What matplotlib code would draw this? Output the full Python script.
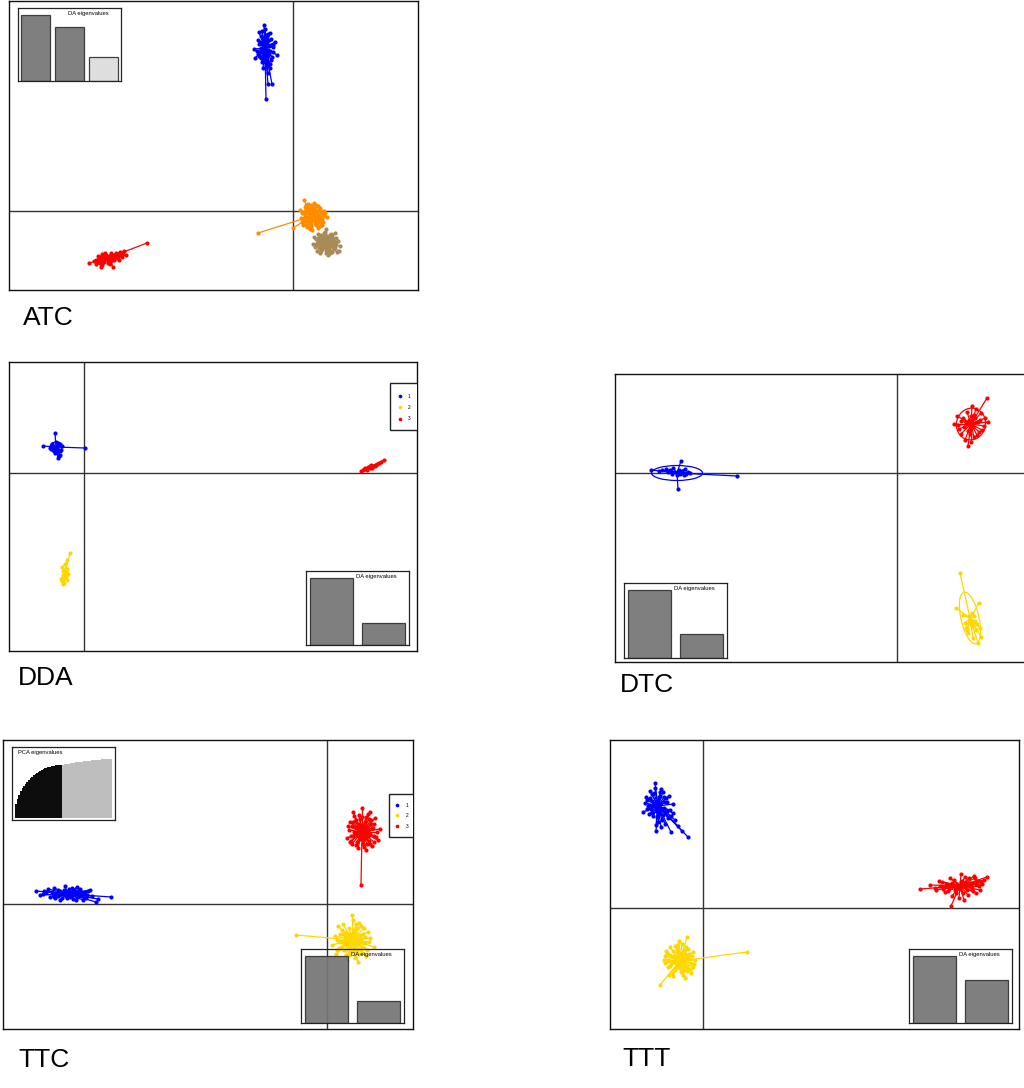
import matplotlib
matplotlib.use("Agg")
import matplotlib.pyplot as plt
from matplotlib.collections import LineCollection
from matplotlib.patches import Ellipse, Rectangle

plt.rcParams['font.family'] = ['Liberation Sans', 'DejaVu Sans']

W, H = 1024, 1088

# ---------------- colours ----------------
BLUE, RED, GOLD, ORANGE, TAN = '#0000FF', '#FF0000', '#FFD700', '#FF8C00', '#A88B57'

# ---------------- ATC (LD scores, arbitrary units; offsets from group centroid) ----------------
ATC_BLUE_C = (-28, 163)
ATC_BLUE = [(-1,23),(-6,16),(-3,17),(5,15),(1,13),(-7,8),(10,6),(8,1),(-10,-10),(12,-7),(-5,-4),(3,-2),
            (6,-12),(-3,-14),(1,-17),(5,-20),(-1,3),(-4,0),(4,8),(8,-4),(3,-36),(7,-36),(1,-51),(-2,-7),
            (2,-9),(-6,4),(0,0),(2,5),(-2,10),(4,-6),(-4,-10),(0,-14),(2,12),(-3,-2),(6,3),(-8,-3),(0,19),
            (3,-25),(-2,-20),(5,-16),(-11,-1),
            (-4,12),(3,14),(6,9),(-5,6),(-7,-6),(7,-9),(2,-14),(-2,-11),(0,8),(4,2),(-3,5),(5,-3),(-1,-3),
            (2,-5),(8,3),(-6,-8)]
ATC_ORANGE_C = (19, -5)
ATC_ORANGE = [(-8,16),(-12,6),(13,3),(10,-9),(-2,-13),(-9,-9),(4,11),(8,8),(-6,11),(-11,-2),(15,-1),(12,5),
              (6,-12),(0,-14),(-5,-6),(3,-7),(-3,4),(5,2),(0,8),(-7,0),(9,-3),(1,-4),(-4,-2),(7,6),(2,13),
              (-10,3),(11,-6),(-1,-9),(4,-1),(-2,1),(6,-5),(-6,6),(3,9),(-9,-5),(12,0),(-1,11),(8,-10),
              (-5,-11),(1,2),(-3,-3),(-54,-17),(-19,-12),
              (-7,9),(-4,12),(2,10),(6,10),(9,5),(10,1),(7,-3),(4,-9),(-1,-11),(-6,-9),(-8,-4),(-9,3),
              (-5,8),(0,5),(4,5),(6,-1),(2,-3),(-2,-6),(-5,3),(-1,0),(3,0),(-3,7),(5,-7),(8,-6),(-10,-6),
              (10,-3),(1,9),(-7,5),(11,3),(-4,-8)]
ATC_TAN_C = (33, -32)
ATC_TAN = [(-13,-1),(14,-3),(0,14),(2,-12),(-8,9),(9,10),(11,-9),(-9,-8),(-4,5),(5,4),(3,-5),(-3,-4),(7,0),
           (-6,1),(1,7),(0,-7),(-10,4),(10,5),(-2,10),(4,-10),(6,7),(-7,-5),(12,2),(-11,-4),(1,1),(-1,-1),
           (3,3),(-4,-1),(8,-6),(-5,8),(2,-3),(5,-8),(-2,4),(9,-2),(-8,2),(0,4),(13,-8),(-12,6),
           (-9,0),(-6,6),(-1,11),(4,8),(8,4),(9,-4),(6,-9),(0,-10),(-5,-8),(-7,-2),(-3,2),(2,2),(4,-3),
           (-1,-4),(1,5),(-4,-6),(6,3),(7,-2),(-8,5),(3,-8),(-2,7),(0,0),(10,0),(-10,-2),(5,9),(-6,-10)]
ATC_RED_C = (-185, -47)
ATC_RED = [(39,15),(-19,-5),(-14,-3),(-10,2),(-6,4),(-2,3),(3,5),(8,5),(12,6),(16,7),(18,3),(14,1),(9,0),
           (5,-1),(0,-2),(-4,-4),(-8,-5),(-12,-6),(-7,-9),(2,-6),(-3,5),(6,1),(11,-2),(-10,-2),(1,0),(-1,2),
           (4,3),(-5,-1),(7,3),(-9,0),(10,4),(0,-5),(15,4),(-6,-7),(5,-9),
           (-12,-2),(-8,1),(-4,0),(0,1),(4,0),(8,2),(12,3),(-6,-3),(-2,-1),(2,2),(6,-2),(10,1),(-10,-4),
           (3,-3),(-5,2),(14,4)]
ATC_DA_EIG = [66, 54, 24]

# ---------------- DDA ----------------
DDA_BLUE_C = (-28, 26)
DDA_BLUE = [(-1,14),(-13,1),(29,-1),(2,-11),(4,-8),(3,-9),(-4,3),(4,3),(-5,-2),(5,-3),(0,5),(-2,-4),(3,2),
            (-3,1),(1,-2),(6,1),(-6,-1),(2,4),(-1,-6),(0,0),(4,-4),(-3,-3)]
DDA_BLUE_ELL = (12, 10, 0)
DDA_GOLD_C = (-19, -100)
DDA_GOLD = [(5,20),(2,13),(-3,6),(-1,3),(1,1),(-2,-2),(0,-5),(-3,-8),(-1,-10),(2,-7),(1,-3),(-2,2),(0,9),
            (-4,-6),(-2,-11),(3,-1),(-1,-4),(2,4)]
DDA_RED_C = (286, 6)
DDA_RED = [(14,7),(-7,-3),(-9,-4),(-4,-2),(0,-1),(3,1),(6,2),(9,4),(11,5),(-2,0),(2,-1),(-5,-1),(5,1),
           (-3,-3),(1,2),(7,3),(-6,-2),(0,1)]
DDA_DA_EIG = [67, 22]

# ---------------- DTC ----------------
DTC_BLUE_C = (-220, 0)
DTC_BLUE = [(-26,3),(4,12),(1,-16),(60,-3),(-11,4),(-7,3),(-4,5),(3,-1),(7,-2),(11,1),(-15,3),(-2,1),(5,2),
            (9,-1),(13,0),(-9,1),(0,-2),(2,3),(-5,-1),(6,0),(8,4),(-18,2)]
DTC_BLUE_ELL = (51, 15, 0)
DTC_RED_C = (74, 49)
DTC_RED = [(16,26),(-17,0),(-14,8),(-12,-5),(-10,-10),(-6,-16),(-3,-22),(0,-18),(3,-13),(8,-8),(13,-2),
           (17,2),(14,6),(10,11),(5,15),(1,18),(-4,12),(-8,6),(-5,2),(-2,4),(2,-3),(4,6),(7,2),(-7,-3),
           (0,8),(-10,3),(11,-6),(3,9),(-3,-7),(6,-11),(-13,-1),(9,4),(-1,-10)]
DTC_RED_ELL = (29, 32, -15)
DTC_GOLD_C = (73, -145)
DTC_GOLD = [(-10,45),(-14,10),(9,15),(-5,-5),(0,-2),(3,-8),(6,-12),(10,-10),(8,-25),(3,-20),(-2,-15),
            (-4,-10),(2,5),(-7,3),(5,-3),(1,-6),(-1,2),(4,2),(11,-19),(-3,-12),(7,-6)]
DTC_GOLD_ELL = (18, 53, 13)
DTC_DA_EIG = [66, 23]

# ---------------- TTC ----------------
TTC_BLUE_C = (-259, 10)
TTC_BLUE = [(43,-3),(-32,3),(-3,8),(28,-8),(20,3),(-25,0),(-20,5),(-15,-2),(-10,4),(-6,-4),(-2,2),(2,-3),
            (6,4),(10,-1),(14,2),(18,-4),(-12,1),(-8,-6),(4,6),(8,-6),(-18,-3),(12,5),(0,-1),(-4,4),(16,0),
            (24,-2),(-28,-1),(22,4),(-22,2),(9,7),(-14,6),(1,5),(5,-5),(-7,0),(11,1),(3,1),(-1,-4),(15,-6),(30,-5),
            (-16,2),(-10,-2),(-4,1),(0,3),(5,1),(9,-3),(13,-1),(-8,3),(-2,-2),(3,-2),(7,2),(11,3),(17,2),
            (-13,-4),(-24,3),(19,-1)]
TTC_RED_C = (35, 72)
TTC_RED = [(-1,-53),(0,24),(-12,10),(12,8),(-15,-6),(18,3),(-10,-12),(10,-14),(4,-18),(-4,-16),(-8,16),
           (6,18),(-13,2),(14,-5),(-6,5),(5,4),(0,0),(2,-7),(-3,-4),(8,-2),(-9,-4),(3,10),(-2,13),(9,12),
           (-11,-9),(12,-10),(7,-9),(-5,-10),(1,-12),(15,0),(-14,6),(4,15),(-7,11),(10,4),(-1,7),(6,-4),
           (-4,1),(2,3),(-6,-1),(16,-8),(8,20),(-9,20),
           (-10,6),(-6,12),(0,15),(7,13),(11,4),(12,-4),(8,-12),(2,-15),(-6,-13),(-11,-4),(-8,0),(-4,8),
           (3,6),(6,1),(4,-6),(-2,-7),(-5,-3),(0,3),(9,8),(-9,10),(5,-12),(-3,17),(13,14),(-12,-10)]
TTC_GOLD_C = (25, -36)
TTC_GOLD = [(-56,5),(0,25),(-14,14),(12,12),(22,-7),(-20,-5),(14,-16),(-16,-14),(6,-22),(-5,-20),(17,-2),
            (-10,-2),(8,5),(-6,8),(4,16),(-2,-8),(3,-4),(-4,3),(10,-8),(-12,6),(7,-14),(-8,-10),(0,0),(2,10),
            (13,3),(-15,0),(5,-10),(-3,-15),(9,14),(-9,16),(16,8),(1,20),(-11,-8),(11,-3),(-1,5),(6,1),
            (-6,-4),(3,-18),(15,-10),(-17,4),
            (-12,-2),(-9,6),(-3,12),(5,12),(11,6),(13,-3),(10,-13),(3,-15),(-6,-15),(-13,-8),(-7,2),(-2,6),
            (4,6),(7,-3),(2,-9),(-4,-6),(0,2),(9,1),(-10,10),(7,17),(-1,-12),(-8,-4),(12,-8),(-15,-10),(18,2)]
TTC_DA_EIG = [66, 22]
TTC_PCA_CUMVAR = [0.23, 0.32, 0.39, 0.45, 0.50, 0.54, 0.58, 0.61, 0.64, 0.67, 0.70, 0.72, 0.74, 0.76, 0.78,
                  0.80, 0.81, 0.83, 0.84, 0.85, 0.86, 0.87, 0.875, 0.88, 0.887, 0.89, 0.895, 0.898, 0.90, 0.90,
                  0.905, 0.91, 0.915, 0.92, 0.925, 0.93, 0.934, 0.938, 0.942, 0.946, 0.95, 0.954, 0.958, 0.961,
                  0.964, 0.967, 0.970, 0.973, 0.976, 0.979, 0.982, 0.985, 0.987, 0.989, 0.991, 0.993, 0.995,
                  0.997, 0.999, 1.0]
TTC_N_PCA = 29

# ---------------- TTT ----------------
TTT_BLUE_C = (-45, 102)
TTT_BLUE = [(-3,23),(-15,-6),(30,-31),(-2,-25),(13,-26),(15,-7),(-12,9),(15,2),(-8,15),(5,14),(-10,0),
            (8,8),(-5,-10),(10,-12),(0,5),(3,-4),(-4,3),(6,-2),(-7,-3),(2,10),(-2,-5),(12,-4),(-11,6),
            (4,-14),(-6,12),(9,4),(1,-8),(-3,18),(7,-18),(-9,-8),(11,10),(0,-16),(17,-14),(-13,3),(3,17),
            (20,-20),(24,-25),
            (-8,8),(-4,13),(2,14),(7,4),(9,-5),(5,-9),(-1,-11),(-6,-7),(-9,1),(-3,0),(2,2),(4,-3),(0,-6),
            (-6,5),(1,9),(6,9),(-11,-3),(13,-10),(-2,-19),(3,-21)]
TTT_RED_C = (257, 22)
TTT_RED = [(-40,-3),(27,9),(-9,-20),(1,12),(15,8),(-25,-2),(-18,4),(-12,-5),(-6,6),(0,-3),(6,3),(12,-2),
           (18,5),(22,2),(-3,2),(3,-7),(9,8),(-15,-6),(8,-9),(-8,-10),(20,-4),(-21,5),(5,9),(-1,-12),(14,10),
           (-10,8),(24,6),(-4,-7),(11,1),(-13,1),(16,-7),(2,5),(-30,1),(4,-14),
           (-20,0),(-14,2),(-8,3),(-2,-1),(4,1),(10,3),(16,2),(21,4),(-11,-2),(-5,-4),(1,4),(7,-4),(13,-5),
           (-17,-3),(19,0),(-24,-4)]
TTT_GOLD_C = (-23, -53)
TTT_GOLD = [(67,9),(-20,-24),(7,24),(-14,10),(12,5),(-12,-6),(10,-8),(-5,15),(3,-14),(-8,-12),(14,-3),
            (-16,1),(0,0),(5,7),(-4,4),(6,-4),(-2,-6),(8,12),(-10,14),(2,17),(-7,-15),(11,-12),(-13,7),(4,-9),
            (9,2),(-3,9),(1,-3),(-9,-3),(13,9),(-15,-2),(5,-17),(-1,20),(-11,-14),(15,1),(7,-6),
            (-10,5),(-7,10),(-2,12),(4,11),(9,7),(11,-2),(7,-10),(1,-11),(-5,-9),(-10,-5),(-12,1),(-4,-2),
            (2,4),(5,0),(-1,-6),(-6,5),(3,-5),(8,4),(-8,-1),(0,8),(-3,16),(6,14),(13,-6),(-15,5)]
TTT_DA_EIG = [66, 43]

LEGEND_LABELS = ['1', '2', '3']


def px_axes(l, t, r, b, **kw):
    return fig.add_axes([l / W, 1 - b / H, (r - l) / W, (b - t) / H], **kw)


def draw_group(ax, color, center, offsets, ell=None):
    cx, cy = center
    pts = [(cx + dx, cy + dy) for dx, dy in offsets]
    segs = [[(cx, cy), p] for p in pts]
    ax.add_collection(LineCollection(segs, colors=color, linewidths=0.9, zorder=3))
    ax.scatter([p[0] for p in pts], [p[1] for p in pts], s=9, color=color, linewidths=0, zorder=4)
    if ell is not None:
        w, h, a = ell
        ax.add_patch(Ellipse((cx, cy), w, h, angle=a, fill=False, edgecolor=color, lw=0.9, zorder=5))


def main_panel(box, xlim, ylim, label, label_xy):
    ax = px_axes(*box)
    ax.set_xlim(*xlim)
    ax.set_ylim(*ylim)
    ax.set_xticks([])
    ax.set_yticks([])
    for s in ax.spines.values():
        s.set_linewidth(1.0)
        s.set_color('#111111')
    ax.axhline(0, color='#333333', lw=1.0, zorder=2)
    ax.axvline(0, color='#333333', lw=1.0, zorder=2)
    fig.text(label_xy[0] / W, 1 - label_xy[1] / H, label, fontsize=19, va='baseline', ha='left')
    return ax


def da_inset(box, eig, n_dark):
    ia = px_axes(*box)
    ia.patch.set_alpha(0.0)
    n = len(eig)
    cols = ['#757575' if i < n_dark else '#DCDCDC' for i in range(n)]
    ia.bar(range(n), eig, width=0.84, color=cols, edgecolor='#333333', linewidth=0.9, alpha=0.93)
    ia.set_xlim(-0.5, n - 0.5)
    ia.set_ylim(0, max(eig) * 1.11)
    ia.set_xticks([])
    ia.set_yticks([])
    for s in ia.spines.values():
        s.set_linewidth(0.9)
        s.set_color('#222222')
    ia.text(0.68, 0.93, 'DA eigenvalues', transform=ia.transAxes, fontsize=4.2, ha='center', va='center')
    return ia


def legend_box(ax, x0, y0, y1, xdot, ydots, xtxt, colors):
    ax.add_patch(Rectangle((x0, y0), 0.2, y1 - y0, transform=ax.transAxes, facecolor='white',
                           edgecolor='#222222', lw=1.0, zorder=6, clip_on=True))
    for yd, c, lab in zip(ydots, colors, LEGEND_LABELS):
        ax.scatter([xdot], [yd], s=7, color=c, transform=ax.transAxes, zorder=7, linewidths=0, clip_on=True)
        ax.text(xtxt, yd, lab, transform=ax.transAxes, fontsize=3.5, va='center', ha='left', zorder=7)


fig = plt.figure(figsize=(W / 100, H / 100), dpi=100)

# ATC
ax = main_panel((9, 1, 418, 290), (-284, 125), (-79, 210), 'ATC', (23, 325))
draw_group(ax, RED, ATC_RED_C, ATC_RED)
draw_group(ax, TAN, ATC_TAN_C, ATC_TAN)
draw_group(ax, ORANGE, ATC_ORANGE_C, ATC_ORANGE)
draw_group(ax, BLUE, ATC_BLUE_C, ATC_BLUE)
da_inset((18, 8, 121, 81), ATC_DA_EIG, 2)

# DDA
ax = main_panel((9, 362, 417, 651), (-75, 333), (-178, 111), 'DDA', (18, 685))
draw_group(ax, BLUE, DDA_BLUE_C, DDA_BLUE, DDA_BLUE_ELL)
draw_group(ax, GOLD, DDA_GOLD_C, DDA_GOLD)
draw_group(ax, RED, DDA_RED_C, DDA_RED)
legend_box(ax, 0.934, 0.765, 0.927, 0.958, [0.882, 0.844, 0.803], 0.978, [BLUE, GOLD, RED])
da_inset((306, 571, 409, 645), DDA_DA_EIG, 2)

# DTC
ax = main_panel((615, 374, 1030, 662), (-282, 133), (-189, 99), 'DTC', (620, 692))
draw_group(ax, BLUE, DTC_BLUE_C, DTC_BLUE, DTC_BLUE_ELL)
draw_group(ax, RED, DTC_RED_C, DTC_RED, DTC_RED_ELL)
draw_group(ax, GOLD, DTC_GOLD_C, DTC_GOLD, DTC_GOLD_ELL)
da_inset((624, 583, 727, 658), DTC_DA_EIG, 2)

# TTC
ax = main_panel((3, 740, 413, 1029), (-324, 86), (-125, 164), 'TTC', (18, 1067))
draw_group(ax, BLUE, TTC_BLUE_C, TTC_BLUE)
draw_group(ax, RED, TTC_RED_C, TTC_RED)
draw_group(ax, GOLD, TTC_GOLD_C, TTC_GOLD)
legend_box(ax, 0.941, 0.664, 0.813, 0.961, [0.775, 0.740, 0.702], 0.983, [BLUE, GOLD, RED])
da_inset((301, 949, 404, 1023), TTC_DA_EIG, 2)
pa = px_axes(12, 747, 115, 820)
pa.set_facecolor('white')
npc = len(TTC_PCA_CUMVAR)
pcols = ['#0D0D0D' if i < TTC_N_PCA else '#BEBEBE' for i in range(npc)]
pa.bar(range(npc), TTC_PCA_CUMVAR, width=1.0, color=pcols, linewidth=0)
pa.set_xlim(-2.5, npc + 1.5)
pa.set_ylim(-0.034, 1.2)
pa.set_xticks([])
pa.set_yticks([])
for s in pa.spines.values():
    s.set_linewidth(0.9)
    s.set_color('#222222')
pa.text(0.06, 0.93, 'PCA eigenvalues', transform=pa.transAxes, fontsize=4.2, ha='left', va='center')

# TTT
ax = main_panel((610, 740, 1019, 1029), (-93, 316), (-121, 168), 'TTT', (622, 1066))
draw_group(ax, BLUE, TTT_BLUE_C, TTT_BLUE)
draw_group(ax, RED, TTT_RED_C, TTT_RED)
draw_group(ax, GOLD, TTT_GOLD_C, TTT_GOLD)
da_inset((909, 949, 1012, 1023), TTT_DA_EIG, 2)

fig.savefig('out.png', dpi=100)
